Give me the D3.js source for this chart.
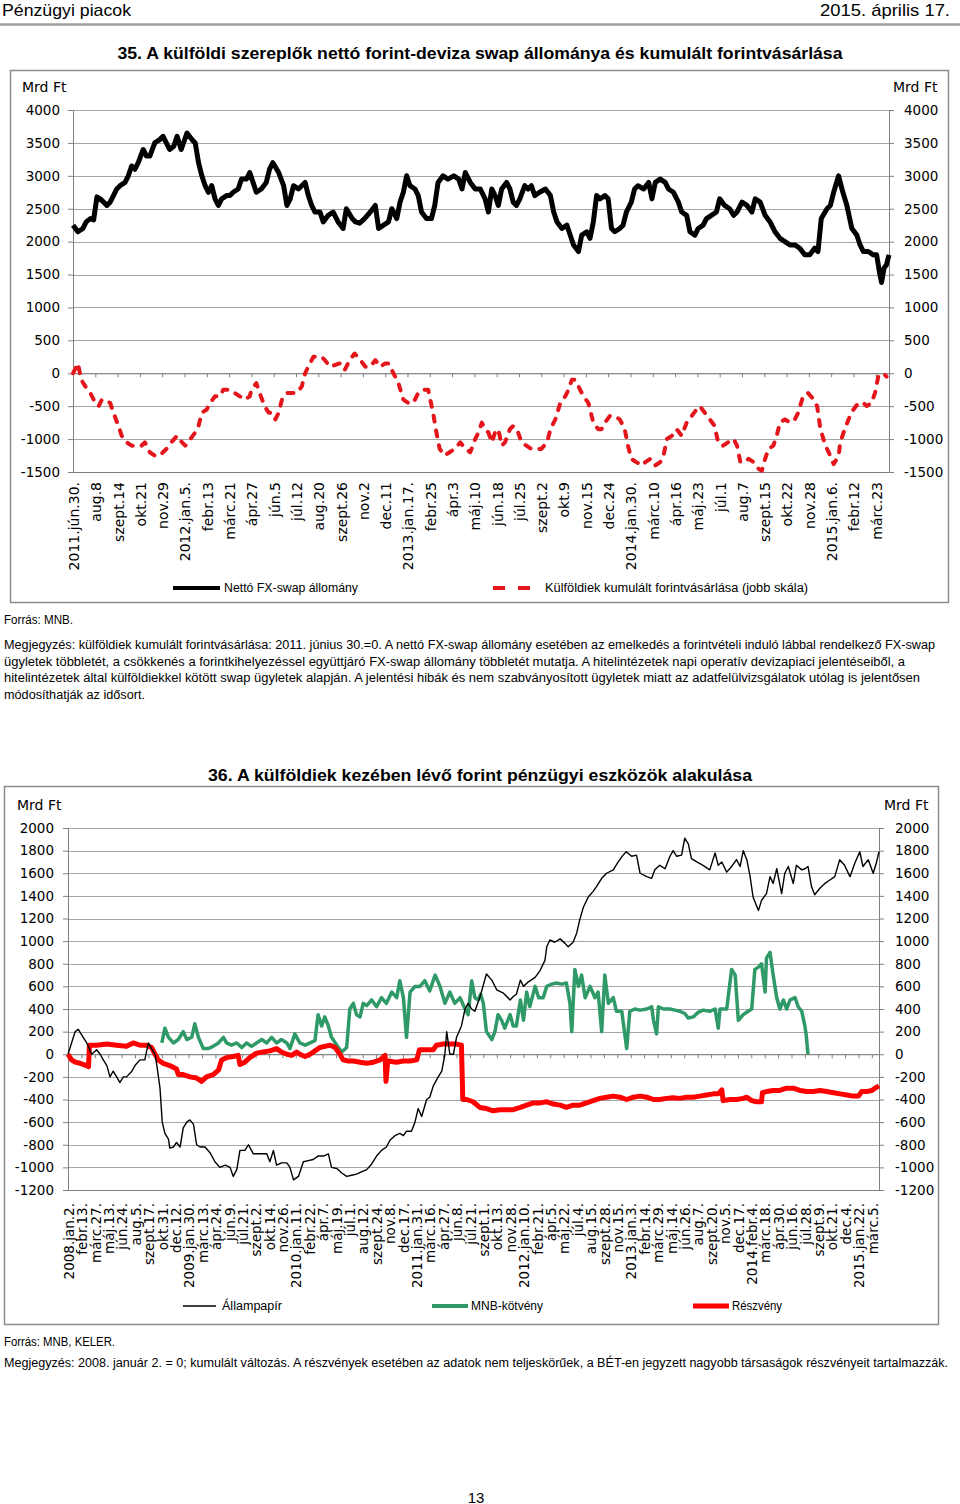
<!DOCTYPE html>
<html><head><meta charset="utf-8">
<script src="https://cdn.jsdelivr.net/npm/d3@7"></script>
<style>body{margin:0;background:#fff}svg{display:block}</style>
</head><body>
<svg id="page" width="960" height="1504"></svg>
<script>
// ---------- Chart 35 data (x = trading-day index since 2011.jún.30.) ----------
const c1TickLabels = ["2011.jún.30.","aug.8","szept.14","okt.21","nov.29","2012.jan.5.","febr.13","márc.21","ápr.27","jún.5","júl.12","aug.20","szept.26","nov.2","dec.11","2013.jan.17.","febr.25","ápr.3","máj.10","jún.18","júl.25","szept.2","okt.9","nov.15","dec.24","2014.jan.30.","márc.10","ápr.16","máj.23","júl.1","aug.7","szept.15","okt.22","nov.28","2015.jan.6.","febr.12","márc.23"];
const c1YTicks = [-1500,-1000,-500,0,500,1000,1500,2000,2500,3000,3500,4000];
const swapNet = [[0,2250],[6,2150],[12,2200],[16,2300],[21,2350],[25,2330],[29,2680],[33,2650],[37,2600],[41,2550],[45,2600],[49,2700],[53,2800],[57,2850],[63,2900],[67,3000],[71,3150],[75,3100],[79,3200],[85,3400],[89,3300],[93,3300],[99,3500],[105,3550],[109,3600],[113,3500],[117,3400],[122,3450],[126,3600],[131,3400],[138,3650],[144,3550],[148,3500],[152,3200],[156,3000],[160,2850],[164,2750],[168,2850],[172,2650],[176,2550],[180,2650],[186,2700],[190,2700],[194,2750],[200,2800],[204,2950],[210,2950],[214,3050],[218,2900],[222,2750],[228,2800],[234,2900],[238,3100],[242,3200],[249,3050],[255,2850],[259,2550],[263,2650],[267,2850],[273,2800],[277,2850],[281,2900],[285,2700],[289,2550],[293,2450],[299,2450],[303,2300],[309,2400],[315,2450],[321,2300],[327,2200],[331,2500],[338,2350],[342,2300],[347,2280],[353,2350],[360,2450],[366,2550],[370,2200],[376,2250],[382,2300],[386,2500],[392,2350],[396,2600],[400,2750],[404,3000],[408,2850],[414,2800],[418,2700],[422,2450],[428,2350],[434,2350],[438,2550],[442,2900],[448,3000],[454,2950],[461,3000],[467,2950],[471,2800],[475,3050],[481,2900],[487,2800],[493,2800],[499,2650],[503,2450],[507,2800],[511,2700],[515,2550],[519,2800],[525,2900],[529,2800],[533,2600],[537,2550],[541,2650],[547,2850],[551,2800],[555,2850],[559,2700],[565,2750],[572,2800],[578,2700],[582,2450],[586,2300],[592,2200],[598,2250],[602,2100],[606,1950],[612,1850],[616,2100],[622,2150],[626,2050],[630,2300],[634,2700],[638,2650],[644,2700],[648,2650],[652,2200],[656,2150],[662,2200],[666,2250],[670,2450],[676,2600],[680,2800],[684,2850],[691,2800],[697,2900],[701,2650],[705,2900],[711,2950],[717,2900],[721,2800],[727,2750],[733,2600],[737,2450],[743,2400],[747,2150],[753,2100],[757,2200],[763,2250],[767,2350],[773,2400],[779,2450],[783,2650],[789,2550],[795,2500],[800,2400],[804,2450],[810,2600],[816,2550],[822,2450],[826,2650],[832,2600],[838,2400],[844,2300],[850,2150],[856,2050],[862,2000],[868,1950],[874,1950],[880,1900],[886,1800],[892,1800],[898,1900],[902,1850],[906,2350],[913,2500],[917,2550],[921,2750],[927,3000],[931,2800],[937,2550],[943,2200],[949,2100],[953,1950],[957,1850],[963,1850],[969,1800],[973,1800],[977,1500],[979,1380],[982,1600],[985,1650],[988,1800]];
const forintBuy = [[0,0],[6,150],[10,-100],[15,-200],[21,-300],[27,-450],[31,-500],[35,-400],[45,-450],[49,-600],[55,-800],[59,-950],[65,-1050],[71,-1100],[77,-1100],[83,-1100],[87,-1050],[93,-1200],[99,-1250],[105,-1250],[109,-1200],[113,-1150],[119,-1050],[126,-950],[132,-1050],[136,-1100],[142,-1000],[148,-900],[152,-800],[156,-600],[162,-550],[166,-450],[172,-350],[178,-350],[182,-250],[190,-250],[196,-300],[202,-350],[208,-400],[214,-350],[216,-250],[222,-150],[226,-300],[232,-500],[237,-600],[241,-600],[245,-700],[249,-600],[253,-400],[259,-300],[265,-300],[271,-300],[277,-200],[281,0],[285,100],[291,250],[297,250],[301,250],[305,200],[311,100],[323,150],[329,50],[335,200],[341,300],[348,200],[354,100],[360,100],[366,200],[372,100],[378,150],[382,150],[388,0],[394,-150],[400,-400],[406,-450],[412,-450],[418,-300],[424,-250],[430,-250],[436,-600],[440,-900],[444,-1150],[450,-1250],[456,-1200],[462,-1150],[469,-1050],[475,-1150],[481,-1200],[487,-1000],[491,-900],[495,-750],[499,-850],[503,-900],[507,-1050],[511,-900],[515,-850],[519,-1100],[523,-1050],[529,-850],[533,-800],[539,-900],[543,-1050],[549,-1100],[555,-1150],[561,-1150],[567,-1150],[574,-1050],[578,-850],[584,-700],[590,-450],[596,-350],[600,-250],[604,-100],[608,-100],[612,-200],[618,-350],[624,-450],[630,-750],[636,-850],[640,-850],[644,-750],[650,-650],[656,-650],[662,-700],[668,-850],[672,-1100],[676,-1300],[682,-1350],[689,-1400],[693,-1350],[699,-1300],[705,-1400],[711,-1350],[715,-1250],[719,-1000],[725,-950],[731,-850],[737,-950],[743,-750],[749,-650],[755,-550],[759,-500],[765,-600],[771,-700],[777,-800],[781,-1050],[787,-1100],[793,-1050],[800,-1000],[804,-1100],[808,-1350],[812,-1350],[818,-1300],[824,-1350],[830,-1450],[834,-1480],[838,-1300],[842,-1150],[848,-1100],[852,-950],[856,-750],[862,-700],[868,-750],[874,-700],[878,-600],[884,-350],[890,-300],[897,-400],[901,-500],[905,-850],[911,-1100],[915,-1200],[921,-1380],[927,-1250],[929,-1050],[933,-900],[939,-700],[945,-550],[951,-450],[957,-450],[961,-500],[967,-450],[971,-300],[975,-50],[981,0],[985,-50]];

// ---------- Chart 36 data (x = trading-day index since 2008.jan.2.) ----------
const c2TickLabels = ["2008.jan.2.","febr.13.","márc.27.","máj.13.","jún.24.","aug.5.","szept.17.","okt.31.","dec.12.","2009.jan.30.","márc.13.","ápr.24.","jún.9.","júl.21.","szept.2.","okt.14.","nov.26.","2010.jan.11.","febr.22.","ápr.7.","máj.19.","júl.1.","aug.12.","szept.24.","nov.8.","dec.17.","2011.jan.31.","márc.16.","ápr.27.","jún.8.","júl.21.","szept.1.","okt.13.","nov.28.","2012.jan.10.","febr.21.","ápr.5.","máj.22.","júl.4.","aug.15.","szept.28.","nov.15.","2013.jan.3.","febr.14.","márc.29.","máj.14.","jún.26.","aug.7.","szept.20.","nov.5.","dec.17.","2014.febr.4.","márc.18.","ápr.30.","jún.16.","júl.28.","szept.9.","okt.21.","dec.4.","2015.jan.22.","márc.5."];
const c2YTicks = [-1200,-1000,-800,-600,-400,-200,0,200,400,600,800,1000,1200,1400,1600,1800,2000];
const govBonds = [[0,0],[16,200],[23,220],[34,150],[42,100],[53,0],[64,40],[72,0],[79,-50],[87,-100],[94,-200],[101,-150],[109,-200],[116,-250],[124,-200],[131,-200],[143,-150],[150,-100],[161,-50],[172,-50],[180,100],[187,50],[195,0],[199,-100],[206,-300],[211,-600],[217,-700],[225,-750],[228,-830],[236,-820],[243,-780],[251,-820],[258,-650],[266,-600],[273,-580],[281,-620],[288,-800],[296,-820],[307,-820],[318,-870],[329,-950],[340,-1000],[352,-980],[363,-1000],[370,-1080],[378,-1020],[385,-850],[396,-850],[404,-800],[415,-880],[430,-880],[445,-880],[452,-950],[460,-850],[467,-980],[478,-960],[490,-960],[497,-1000],[505,-1110],[516,-1080],[527,-950],[538,-940],[549,-930],[560,-900],[572,-900],[583,-880],[590,-1000],[602,-1010],[613,-1050],[624,-1080],[635,-1070],[646,-1060],[657,-1040],[669,-1020],[680,-970],[691,-900],[702,-850],[713,-820],[721,-760],[732,-720],[743,-700],[751,-720],[758,-680],[769,-680],[777,-600],[784,-480],[792,-550],[803,-400],[810,-380],[818,-280],[829,-200],[837,-150],[844,0],[848,200],[855,0],[863,0],[870,150],[881,250],[889,400],[896,450],[904,400],[911,380],[922,500],[937,710],[949,655],[960,570],[975,540],[990,480],[997,510],[1004,530],[1013,655],[1020,600],[1031,640],[1046,680],[1057,740],[1068,830],[1072,950],[1079,1010],[1090,990],[1102,1020],[1113,980],[1120,950],[1131,990],[1139,1070],[1146,1190],[1154,1300],[1165,1390],[1176,1440],[1183,1480],[1195,1555],[1206,1600],[1221,1630],[1232,1700],[1243,1760],[1250,1790],[1262,1750],[1273,1760],[1281,1600],[1296,1570],[1307,1555],[1314,1630],[1325,1670],[1337,1640],[1348,1750],[1355,1800],[1363,1750],[1374,1760],[1381,1910],[1389,1860],[1396,1730],[1408,1700],[1422,1670],[1437,1630],[1449,1780],[1456,1670],[1464,1700],[1475,1610],[1486,1660],[1497,1720],[1505,1660],[1512,1800],[1520,1720],[1527,1580],[1534,1390],[1546,1270],[1553,1360],[1564,1420],[1572,1570],[1579,1510],[1587,1640],[1598,1420],[1605,1600],[1613,1660],[1624,1510],[1631,1670],[1643,1630],[1650,1640],[1657,1660],[1665,1480],[1672,1410],[1684,1470],[1695,1510],[1706,1540],[1717,1570],[1728,1720],[1739,1670],[1751,1570],[1762,1690],[1773,1790],[1780,1660],[1792,1720],[1803,1600],[1810,1690],[1816,1790]];
const mnbBonds = [[210,100],[217,230],[225,150],[236,100],[247,130],[258,200],[266,130],[277,150],[284,270],[292,150],[303,50],[314,50],[325,70],[337,100],[348,150],[355,100],[366,80],[378,100],[389,60],[400,100],[411,70],[422,100],[434,130],[445,100],[456,150],[467,100],[478,130],[490,100],[497,50],[508,180],[519,100],[531,80],[542,100],[553,120],[560,350],[568,250],[575,330],[583,250],[590,150],[602,80],[613,20],[624,60],[631,400],[639,450],[646,350],[654,330],[661,450],[669,430],[680,480],[691,420],[702,500],[713,450],[725,550],[736,500],[743,650],[751,500],[758,150],[766,550],[777,600],[788,600],[799,650],[810,560],[822,700],[833,600],[844,450],[855,550],[866,450],[878,500],[889,400],[896,350],[904,650],[911,500],[918,480],[924,530],[930,450],[937,200],[949,130],[956,200],[963,350],[971,300],[978,230],[990,350],[997,250],[1004,250],[1013,480],[1020,300],[1027,550],[1034,420],[1046,600],[1054,500],[1064,500],[1072,600],[1083,620],[1094,630],[1105,620],[1116,630],[1124,450],[1128,200],[1135,750],[1143,600],[1150,700],[1158,500],[1169,600],[1180,500],[1187,550],[1195,200],[1202,700],[1210,450],[1221,500],[1228,380],[1240,380],[1251,50],[1258,380],[1269,400],[1281,390],[1296,400],[1307,420],[1311,300],[1318,180],[1322,420],[1333,400],[1348,400],[1359,390],[1370,380],[1381,360],[1389,320],[1400,330],[1411,370],[1422,390],[1437,380],[1449,400],[1456,230],[1460,400],[1475,400],[1486,750],[1494,700],[1501,300],[1512,350],[1523,380],[1531,400],[1538,750],[1546,770],[1553,800],[1561,550],[1564,850],[1572,900],[1579,700],[1587,500],[1594,400],[1602,480],[1609,400],[1617,480],[1628,500],[1635,420],[1643,380],[1650,250],[1653,170],[1657,0]];
const shares = [[0,0],[8,-50],[16,-70],[27,-80],[42,-100],[46,-110],[48,80],[64,80],[87,90],[109,80],[131,70],[146,100],[161,80],[176,80],[187,60],[195,0],[202,-50],[213,-80],[228,-100],[243,-130],[247,-180],[258,-180],[273,-200],[288,-210],[299,-240],[310,-200],[325,-180],[337,-140],[344,-50],[355,-30],[370,-20],[381,-10],[385,-90],[396,-70],[407,-30],[422,10],[437,20],[452,30],[467,50],[478,20],[490,0],[501,-10],[512,20],[519,0],[531,-20],[542,0],[553,30],[564,60],[575,70],[587,80],[598,60],[609,0],[616,-50],[628,-60],[639,-60],[654,-70],[669,-80],[684,-70],[699,-50],[710,-10],[712,-240],[716,-60],[736,-70],[751,-60],[766,-60],[781,-50],[787,40],[803,40],[818,40],[825,80],[840,90],[855,90],[870,90],[881,80],[884,-400],[893,-400],[907,-420],[922,-470],[937,-480],[952,-500],[967,-490],[982,-490],[997,-490],[1013,-470],[1027,-450],[1042,-430],[1057,-430],[1072,-420],[1087,-440],[1102,-450],[1116,-470],[1131,-450],[1146,-450],[1161,-430],[1176,-410],[1191,-390],[1206,-380],[1221,-370],[1236,-380],[1251,-400],[1266,-380],[1281,-370],[1296,-380],[1311,-400],[1325,-400],[1340,-390],[1355,-385],[1370,-390],[1385,-380],[1400,-380],[1415,-370],[1430,-360],[1445,-350],[1456,-350],[1464,-315],[1467,-410],[1482,-400],[1497,-400],[1512,-390],[1520,-380],[1531,-410],[1542,-420],[1553,-420],[1555,-340],[1564,-330],[1579,-320],[1594,-320],[1609,-300],[1624,-300],[1639,-320],[1654,-330],[1669,-330],[1684,-320],[1699,-330],[1714,-340],[1729,-350],[1744,-360],[1758,-370],[1770,-370],[1777,-330],[1788,-330],[1800,-320],[1807,-300],[1816,-280]];

// ---------- drawing ----------
const svg = d3.select("#page");
const SANS = '"DejaVu Sans", Verdana, sans-serif';
const NARROW = '"Liberation Sans", Arial, sans-serif';
const GRID = "#a6a6a6", AXIS = "#808080";
const numFmt = d => String(d); // plain hyphen-minus as in the reference

function label(x, y, s, o = {}) {
  const t = svg.append("text").attr("x", x).attr("y", y).text(s)
    .attr("font-family", o.family || NARROW).attr("font-size", o.size || 12)
    .attr("font-weight", o.weight || "normal").attr("fill", "#000")
    .attr("text-anchor", o.anchor || "start").attr("dominant-baseline", "central");
  if (o.len) t.attr("textLength", o.len).attr("lengthAdjust", "spacingAndGlyphs");
  return t;
}

// page header
label(2, 10, "Pénzügyi piacok", {size: 17, len: 129});
label(950, 10, "2015. április 17.", {size: 17, anchor: "end", len: 130});
svg.append("line").attr("x1", 0).attr("x2", 960).attr("y1", 24.5).attr("y2", 24.5).attr("stroke", "#a0a0a0").attr("stroke-width", 2.5);

function chart(cfg) {
  const {x, y, yTicks, tickStep, tickLabels, labelTop, box} = cfg;
  svg.append("rect").attr("x", box[0]).attr("y", box[1]).attr("width", box[2]).attr("height", box[3])
    .attr("fill", "none").attr("stroke", "#8c8c8c").attr("stroke-width", 1.5);
  const [x0, x1] = x.range();
  const g = svg.append("g");
  g.selectAll(".grid").data(yTicks).join("line")
    .attr("x1", x0).attr("x2", x1).attr("y1", d => Math.round(y(d)) + 0.5).attr("y2", d => Math.round(y(d)) + 0.5)
    .attr("stroke", d => (d === yTicks[0] ? AXIS : GRID)).attr("stroke-width", 1);
  const la = g.append("g").attr("transform", `translate(${x0},0)`)
    .call(d3.axisLeft(y).tickValues(yTicks).tickFormat(numFmt).tickSize(5).tickSizeOuter(0).tickPadding(cfg.padL));
  const ra = g.append("g").attr("transform", `translate(${x1},0)`)
    .call(d3.axisRight(y).tickValues(yTicks).tickFormat(numFmt).tickSize(5).tickSizeOuter(0).tickPadding(cfg.padR));
  [la, ra].forEach(a => {
    a.select(".domain").attr("stroke", AXIS);
    a.selectAll(".tick line").attr("stroke", AXIS);
    a.selectAll("text").attr("font-family", SANS).attr("font-size", cfg.ySize).attr("fill", "#000");
  });
  const ticks = tickLabels.map((_, i) => i * tickStep);
  const xa = g.append("g").attr("transform", `translate(0,${y(0)})`)
    .call(d3.axisBottom(x).tickValues(ticks).tickSize(4).tickSizeOuter(0).tickFormat(""));
  xa.select(".domain").attr("stroke", AXIS);
  xa.selectAll(".tick line").attr("stroke", AXIS);
  g.selectAll(".xl").data(tickLabels).join("text")
    .attr("transform", (d, i) => `translate(${x(ticks[i]) + 1},${labelTop}) rotate(-90)`)
    .attr("text-anchor", "end").attr("dy", "0.35em")
    .attr("font-family", SANS).attr("font-size", cfg.xSize).attr("fill", "#000").text(d => d);
  label(cfg.unitL, cfg.unitY, "Mrd Ft", {family: SANS, size: 14});
  label(cfg.unitR, cfg.unitY, "Mrd Ft", {family: SANS, size: 14});
  return g;
}

// ---------- Chart 35 ----------
label(480, 53, "35. A külföldi szereplők nettó forint-deviza swap állománya és kumulált forintvásárlása",
  {size: 16.5, weight: "bold", anchor: "middle", len: 725});
const x1s = d3.scaleLinear().domain([0, 988]).range([73, 889]);
const y1s = d3.scaleLinear().domain([-1500, 4000]).range([472, 110]);
const g1 = chart({x: x1s, y: y1s, yTicks: c1YTicks, tickStep: 27, tickLabels: c1TickLabels, labelTop: 482,
  box: [10.5, 70.5, 938, 532], padL: 8, padR: 10, ySize: 13.5, xSize: 14, unitL: 22, unitR: 893, unitY: 87});
const line1 = d3.line().x(d => x1s(d[0])).y(d => y1s(d[1]));
g1.append("path").datum(forintBuy).attr("d", line1).attr("fill", "none").attr("stroke", "#e4161c")
  .attr("stroke-width", 4).attr("stroke-dasharray", "6,9").attr("stroke-linecap", "round").attr("stroke-linejoin", "round");
g1.append("path").datum(swapNet).attr("d", line1).attr("fill", "none").attr("stroke", "#000")
  .attr("stroke-width", 5).attr("stroke-linejoin", "round");
svg.append("line").attr("x1", 173).attr("x2", 220).attr("y1", 588).attr("y2", 588).attr("stroke", "#000").attr("stroke-width", 4);
label(224, 588, "Nettó FX-swap állomány", {size: 12.5, len: 134});
svg.append("line").attr("x1", 493).attr("x2", 530).attr("y1", 588).attr("y2", 588).attr("stroke", "#e4161c").attr("stroke-width", 4).attr("stroke-dasharray", "12,13");
label(545, 588, "Külföldiek kumulált forintvásárlása (jobb skála)", {size: 12.5, len: 263});

label(4, 620, "Forrás: MNB.", {size: 12, len: 69});
const notes1 = [
  ["Megjegyzés: külföldiek kumulált forintvásárlása: 2011. június 30.=0. A nettó FX-swap állomány esetében az emelkedés a forintvételi induló lábbal rendelkező FX-swap", 931],
  ["ügyletek többletét, a csökkenés a forintkihelyezéssel együttjáró FX-swap állomány többletét mutatja. A hitelintézetek napi operatív devizapiaci jelentéseiből, a", 901],
  ["hitelintézetek által külföldiekkel kötött swap ügyletek alapján. A jelentési hibák és nem szabványosított ügyletek miatt az adatfelülvizsgálatok utólag is jelentősen", 916],
  ["módosíthatják az idősort.", 141]
];
notes1.forEach((n, i) => label(4, 645 + i * 16.7, n[0], {size: 12, len: n[1]}));

// ---------- Chart 36 ----------
label(480, 775, "36. A külföldiek kezében lévő forint pénzügyi eszközök alakulása",
  {size: 16.5, weight: "bold", anchor: "middle", len: 544});
const x2s = d3.scaleLinear().domain([0, 1816]).range([68, 879]);
const y2s = d3.scaleLinear().domain([-1200, 2000]).range([1190, 828]);
const g2 = chart({x: x2s, y: y2s, yTicks: c2YTicks, tickStep: 30, tickLabels: c2TickLabels, labelTop: 1203,
  box: [4.5, 786.5, 934, 538], padL: 9, padR: 11, ySize: 13.5, xSize: 13.5, unitL: 17, unitR: 884, unitY: 805});
const line2 = d3.line().x(d => x2s(d[0])).y(d => y2s(d[1]));
g2.append("path").datum(mnbBonds).attr("d", line2).attr("fill", "none").attr("stroke", "#2f9a68")
  .attr("stroke-width", 3.5).attr("stroke-linejoin", "round");
g2.append("path").datum(shares).attr("d", line2).attr("fill", "none").attr("stroke", "#ff0000")
  .attr("stroke-width", 5).attr("stroke-linejoin", "round");
g2.append("path").datum(govBonds).attr("d", line2).attr("fill", "none").attr("stroke", "#000")
  .attr("stroke-width", 1.4).attr("stroke-linejoin", "round");
svg.append("line").attr("x1", 183).attr("x2", 216).attr("y1", 1306).attr("y2", 1306).attr("stroke", "#000").attr("stroke-width", 1.5);
label(222, 1306, "Állampapír", {size: 12.5, len: 60});
svg.append("line").attr("x1", 432).attr("x2", 468).attr("y1", 1306).attr("y2", 1306).attr("stroke", "#2f9a68").attr("stroke-width", 4);
label(471, 1306, "MNB-kötvény", {size: 12.5, len: 72});
svg.append("line").attr("x1", 693).attr("x2", 729).attr("y1", 1306).attr("y2", 1306).attr("stroke", "#ff0000").attr("stroke-width", 5);
label(732, 1306, "Részvény", {size: 12.5, len: 50});

label(4, 1342, "Forrás: MNB, KELER.", {size: 12, len: 111});
label(4, 1363, "Megjegyzés: 2008. január 2. = 0; kumulált változás. A részvények esetében az adatok nem teljeskörűek, a BÉT-en jegyzett nagyobb társaságok részvényeit tartalmazzák.", {size: 12, len: 944});

label(476, 1497, "13", {size: 15, anchor: "middle"});
</script>
</body></html>
